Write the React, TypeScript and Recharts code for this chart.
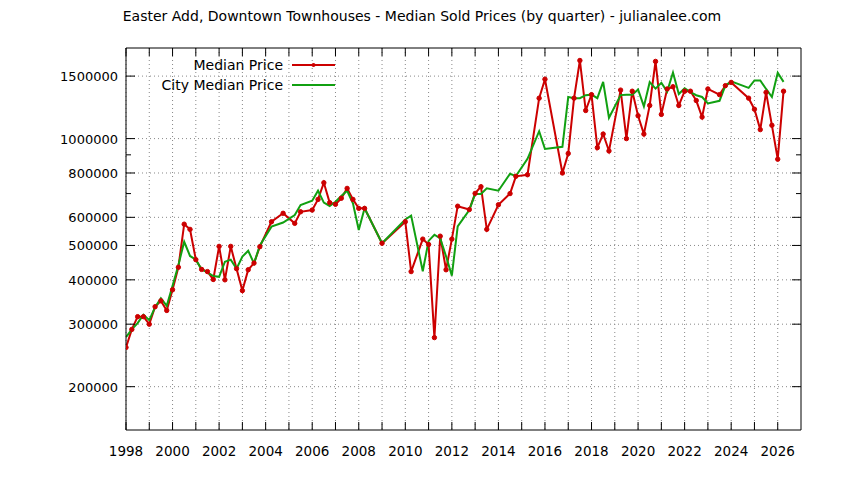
import { LineChart, Line, XAxis, YAxis, CartesianGrid, Legend } from "recharts";

const quarters = [
  1998.0, 1998.25, 1998.5, 1998.75, 1999.0, 1999.25, 1999.5, 1999.75,
  2000.0, 2000.25, 2000.5, 2000.75, 2001.0, 2001.25, 2001.5, 2001.75,
  2002.0, 2002.25, 2002.5, 2002.75, 2003.0, 2003.25, 2003.5, 2003.75,
  2004.25, 2004.75, 2005.25, 2005.5, 2006.0, 2006.25, 2006.5, 2006.75,
  2007.0, 2007.25, 2007.5, 2007.75, 2008.0, 2008.25, 2009.0, 2010.0,
  2010.25, 2010.75, 2011.0, 2011.25, 2011.5, 2011.75, 2012.0, 2012.25,
  2012.75, 2013.0, 2013.25, 2013.5, 2014.0, 2014.5, 2014.75, 2015.25,
  2015.75, 2016.0, 2016.75, 2017.0, 2017.25, 2017.5, 2017.75, 2018.0,
  2018.25, 2018.5, 2018.75, 2019.25, 2019.5, 2019.75, 2020.0, 2020.25,
  2020.5, 2020.75, 2021.0, 2021.25, 2021.5, 2021.75, 2022.0, 2022.25,
  2022.5, 2022.75, 2023.0, 2023.5, 2023.75, 2024.0, 2024.75, 2025.0,
  2025.25, 2025.5, 2025.75, 2026.0, 2026.25,
];

const medianPrice = [
  258000, 290000, 315000, 315000, 300000, 336000, 349000, 328000,
  375000, 434000, 574000, 555000, 456000, 428000, 422000, 401000,
  497000, 400000, 497000, 430000, 373000, 427000, 446000, 496000,
  583000, 616000, 577000, 622000, 629000, 674000, 751000, 660000,
  653000, 679000, 724000, 674000, 636000, 636000, 507000, 583000,
  422000, 521000, 503000, 275000, 531000, 427000, 521000, 645000,
  631000, 701000, 732000, 555000, 651000, 700000, 783000, 791000,
  1300000, 1470000, 800000, 908000, 1300000, 1660000, 1200000, 1330000,
  943000, 1030000, 923000, 1370000, 1000000, 1360000, 1160000, 1030000,
  1240000, 1650000, 1170000, 1380000, 1400000, 1240000, 1360000, 1360000,
  1280000, 1150000, 1380000, 1330000, 1410000, 1440000, 1300000, 1210000,
  1060000, 1350000, 1090000, 875000, 1360000,
];

const cityMedianPrice = [
  276000, 290000, 302000, 319000, 308000, 335000, 355000, 338000,
  385000, 440000, 512000, 467000, 456000, 428000, 420000, 410000,
  408000, 450000, 456000, 430000, 465000, 483000, 445000, 500000,
  565000, 580000, 609000, 650000, 668000, 713000, 660000, 646000,
  664000, 689000, 713000, 657000, 553000, 636000, 507000, 592000,
  607000, 423000, 515000, 536000, 523000, 466000, 411000, 566000,
  629000, 698000, 698000, 724000, 713000, 796000, 784000, 877000,
  1049000, 935000, 948000, 1310000, 1300000, 1300000, 1325000, 1330000,
  1300000, 1445000, 1145000, 1326000, 1330000, 1330000, 1375000, 1232000,
  1442000, 1383000, 1436000, 1356000, 1535000, 1335000, 1386000, 1352000,
  1325000, 1310000, 1256000, 1278000, 1410000, 1450000, 1390000, 1458000,
  1458000, 1380000, 1310000, 1533000, 1445000,
];

const yearTicks = [
  1998, 1999, 2000, 2001, 2002, 2003, 2004, 2005, 2006, 2007, 2008, 2009, 2010,
  2011, 2012, 2013, 2014, 2015, 2016, 2017, 2018, 2019, 2020, 2021, 2022, 2023,
  2024, 2025, 2026,
];
const yearLabels = [
  1998, 2000, 2002, 2004, 2006, 2008, 2010, 2012, 2014, 2016, 2018, 2020, 2022,
  2024, 2026,
];
const priceTicks = [200000, 300000, 400000, 500000, 600000, 800000, 1000000, 1500000];
const minorPriceTicks = [700000, 900000];

const data = quarters.map((q, i) => ({
  quarter: q,
  median: medianPrice[i],
  city: cityMedianPrice[i],
}));

const RED = "#cc0000";
const GREEN = "#11a011";
const FONT = "'DejaVu Sans', sans-serif";
const allPriceTicks = [...priceTicks, ...minorPriceTicks].sort((a, b) => a - b);

function LeftTick(props: any) {
  const { x, y, payload } = props;
  const minor = minorPriceTicks.includes(payload.value);
  return (
    <g>
      <line x1={x} x2={x + (minor ? 5 : 9)} y1={y} y2={y} stroke="#000" />
      {!minor && (
        <text x={x - 8} y={y + 5} textAnchor="end" fontSize={13} fontFamily={FONT} fill="#000">
          {payload.value}
        </text>
      )}
    </g>
  );
}

function RightTick(props: any) {
  const { x, y, payload } = props;
  const minor = minorPriceTicks.includes(payload.value);
  return <line x1={x} x2={x - (minor ? 5 : 9)} y1={y} y2={y} stroke="#000" />;
}

function BottomTick(props: any) {
  const { x, y, payload } = props;
  return (
    <g>
      <line x1={x} x2={x} y1={y} y2={y - 8} stroke="#000" />
      {yearLabels.includes(payload.value) && (
        <text x={x} y={y + 26} textAnchor="middle" fontSize={13.5} fontFamily={FONT} fill="#000">
          {payload.value}
        </text>
      )}
    </g>
  );
}

function TopTick(props: any) {
  const { x, y } = props;
  return <line x1={x} x2={x} y1={y} y2={y + 8} stroke="#000" />;
}

function LegendBox() {
  return (
    <svg width={220} height={46} style={{ display: "block" }}>
      <text x={153} y={18} textAnchor="end" fontSize={14} fontFamily={FONT} fill="#000">
        Median Price
      </text>
      <line x1={162} x2={205} y1={13} y2={13} stroke={RED} strokeWidth={2} />
      <circle cx={183.5} cy={13} r={2} fill={RED} />
      <text x={153} y={38} textAnchor="end" fontSize={14} fontFamily={FONT} fill="#000">
        City Median Price
      </text>
      <line x1={162} x2={205} y1={33} y2={33} stroke={GREEN} strokeWidth={2} />
    </svg>
  );
}

export default function App() {
  return (
    <div
      style={{
        position: "absolute",
        left: 0,
        top: 0,
        width: 844,
        height: 480,
        background: "#fff",
      }}
    >
      <div
        style={{
          position: "absolute",
          top: 8,
          left: 0,
          width: 844,
          textAlign: "center",
          fontFamily: FONT,
          fontSize: 14,
          color: "#000",
        }}
      >
        Easter Add, Downtown Townhouses - Median Sold Prices (by quarter) - julianalee.com
      </div>
      <LineChart
        width={844}
        height={480}
        data={data}
        margin={{ top: 47, right: 42, bottom: 20, left: 0 }}
      >
        <CartesianGrid
          stroke="#888"
          strokeDasharray="1 3"
          horizontalValues={priceTicks}
          verticalValues={yearTicks}
        />
        <XAxis
          dataKey="quarter"
          type="number"
          domain={[1998, 2027]}
          allowDataOverflow
          ticks={yearTicks}
          interval={0}
          tickSize={0}
          tickMargin={0}
          tickLine={false}
          tick={<BottomTick />}
          axisLine={{ stroke: "#000" }}
          height={30}
        />
        <XAxis
          xAxisId="top"
          orientation="top"
          dataKey="quarter"
          type="number"
          domain={[1998, 2027]}
          allowDataOverflow
          ticks={yearTicks}
          interval={0}
          tickSize={0}
          tickMargin={0}
          tickLine={false}
          tick={<TopTick />}
          axisLine={{ stroke: "#000" }}
          height={1}
        />
        <YAxis
          scale="log"
          type="number"
          domain={[151000, 1800000]}
          allowDataOverflow
          ticks={allPriceTicks}
          interval={0}
          tickSize={0}
          tickMargin={0}
          tickLine={false}
          tick={<LeftTick />}
          axisLine={{ stroke: "#000" }}
          width={126}
        />
        <YAxis
          yAxisId="right"
          orientation="right"
          scale="log"
          type="number"
          domain={[151000, 1800000]}
          allowDataOverflow
          ticks={allPriceTicks}
          interval={0}
          tickSize={0}
          tickMargin={0}
          tickLine={false}
          tick={<RightTick />}
          axisLine={{ stroke: "#000" }}
          width={1}
        />
        <Legend
          layout="vertical"
          verticalAlign="middle"
          align="center"
          wrapperStyle={{ left: 130, top: 52, width: 220 }}
          content={<LegendBox />}
        />
        <Line
          dataKey="median"
          name="Median Price"
          stroke={RED}
          strokeWidth={2}
          dot={{ r: 2.2, fill: RED, stroke: RED, strokeWidth: 1 }}
          isAnimationActive={false}
        />
        <Line
          dataKey="city"
          name="City Median Price"
          stroke={GREEN}
          strokeWidth={2}
          dot={false}
          isAnimationActive={false}
        />
      </LineChart>
    </div>
  );
}
